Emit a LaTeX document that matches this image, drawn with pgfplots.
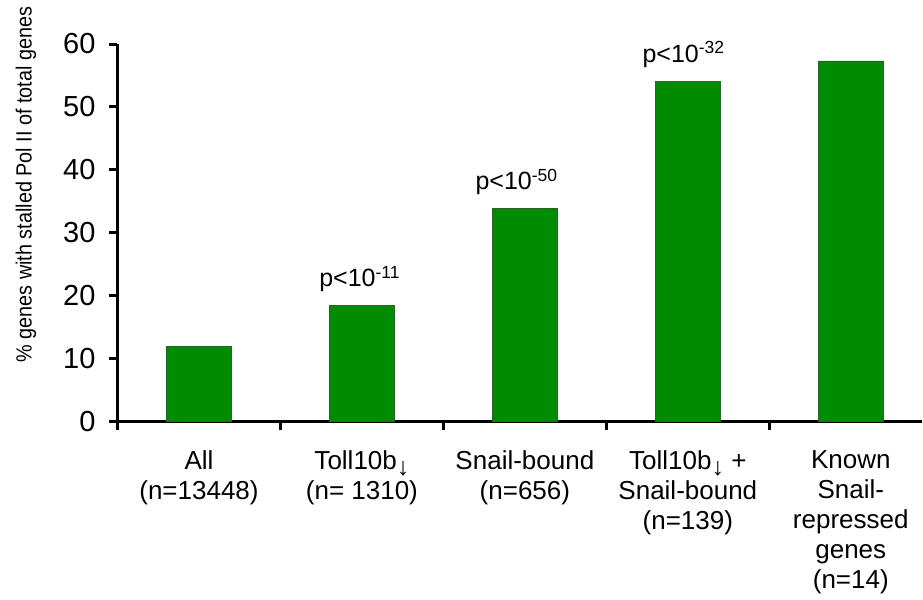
\documentclass[border=0pt]{standalone}
\usepackage{fontspec}
\setmainfont{Liberation Sans}
\newfontfamily\condfont{Liberation Sans}[FakeStretch=0.9]
\usepackage{pgfplots}
\pgfplotsset{compat=1.18}
\definecolor{barg}{RGB}{0,140,0}
\definecolor{bare}{RGB}{40,100,40}
\newcommand{\darr}{\raisebox{-3pt}{\fontsize{12.5}{12.5}\selectfont ↓}}
\begin{document}
\begin{tikzpicture}
\useasboundingbox (-58.75pt,-89.25pt) rectangle (402.75pt,210.75pt);
\begin{axis}[
  at={(0pt,0pt)}, anchor=south west,
  scale only axis, width=402.5pt, height=188.75pt,
  xmin=-0.5, xmax=4.44, ymin=0, ymax=60,
  axis x line*=bottom, axis y line*=left,
  axis line style={line width=1.5pt, -},
  x axis line style={-}, y axis line style={-},
  /pgf/number format/assume math mode=true,
  ytick={0,10,...,60},
  xtick={0,...,4},
  xticklabels={All\\(n=13448), Toll10b\darr\\(n= 1310), Snail-bound\\(n=656), Toll10b\darr{} +\\Snail-bound\\(n=139), Known\\Snail-\\repressed\\genes\\(n=14)},
  minor xtick={-0.5,0.5,1.5,2.5,3.5},
  tick align=outside,
  major tick length=4pt, minor tick length=4pt,
  tick style={line width=1.5pt, black},
  major x tick style={draw=none},
  minor x tick style={line width=1.5pt, black},
  yticklabel style={font=\fontsize{14.5}{17}\selectfont, xshift=-3.5pt},
  xticklabel style={font=\fontsize{13}{15}\selectfont, align=center, anchor=north, yshift=-7pt},
  ybar, bar width=0.4,
  clip=false,
]
\addplot[fill=barg, draw=bare, line width=0.4pt] coordinates {(0,12) (1,18.4) (2,33.8) (3,54.1) (4,57.3)};
\node[anchor=base, font=\fontsize{12.5}{15}\selectfont, xshift=-1pt, yshift=9.5pt] at (axis cs:1,18.4) {p<10\textsuperscript{-11}};
\node[anchor=base, font=\fontsize{12.5}{15}\selectfont, xshift=-4pt, yshift=9.5pt] at (axis cs:2,33.8) {p<10\textsuperscript{-50}};
\node[anchor=base, font=\fontsize{12.5}{15}\selectfont, xshift=-2pt, yshift=9.5pt] at (axis cs:3,54.1) {p<10\textsuperscript{-32}};
\end{axis}
\node[rotate=90, font=\condfont\fontsize{11}{13}\selectfont] at (-45.75pt,118.5pt) {\% genes with stalled Pol II of total genes};
\end{tikzpicture}
\end{document}
